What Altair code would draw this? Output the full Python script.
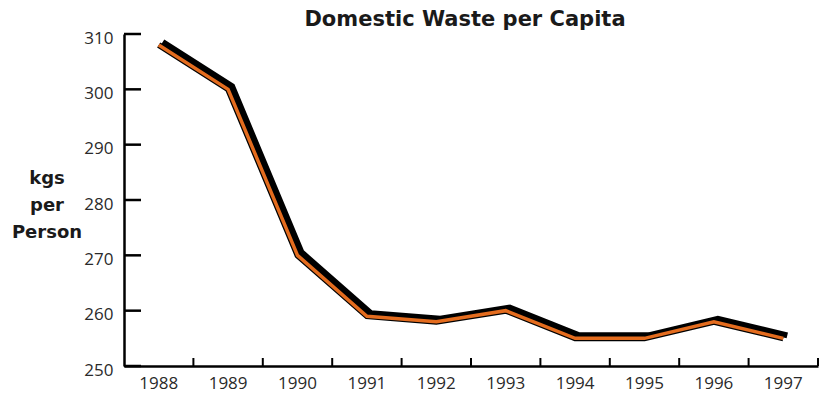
import altair as alt
import pandas as pd

years = ["1988", "1989", "1990", "1991", "1992", "1993", "1994", "1995", "1996", "1997"]
kgs_per_person = [308, 300, 270, 259, 258, 260, 255, 255, 258, 255]
y_ticks = [250, 260, 270, 280, 290, 300, 310]
title_text = "Domestic Waste per Capita"
y_caption = ["kgs", "per", "Person"]

W, H = 694, 332

df = pd.DataFrame({"year": years, "kgs": kgs_per_person})
ticks_df = pd.DataFrame({"v": y_ticks})

x_scale = alt.Scale(domain=years, paddingInner=0, paddingOuter=0)
y_scale = alt.Scale(domain=[250, 310], nice=False, zero=False)

x_enc = alt.X(
    "year:N", scale=x_scale, title=None,
    axis=alt.Axis(
        labelAngle=0, labelFontSize=17, labelColor="#2a2a2a", labelFont="Open Sans",
        labelPadding=9, ticks=False, domainColor="black", domainWidth=2.5,
    ),
)
y_enc = alt.Y(
    "kgs:Q", scale=y_scale, title=None,
    axis=alt.Axis(
        values=y_ticks, labelFontSize=17, labelColor="#2a2a2a", labelFont="Open Sans",
        labelPadding=11, labelOffset=4, ticks=False, domainColor="black",
        domainWidth=2.5, grid=False,
    ),
)

base = alt.Chart(df)

# drop shadow, dark outline and orange core of the series line
shadow = base.mark_line(color="black", strokeWidth=6, xOffset=4, yOffset=-3, strokeCap="butt").encode(x=x_enc, y=y_enc)
outline = base.mark_line(color="black", strokeWidth=6, strokeCap="butt").encode(x=x_enc, y=y_enc)
core = base.mark_line(color="#E46C1E", strokeWidth=3.5, strokeCap="butt").encode(x=x_enc, y=y_enc)

# y ticks pointing into the plot
y_tick_marks = alt.Chart(ticks_df).mark_rule(color="black", strokeWidth=2.5).encode(
    y=alt.Y("v:Q", scale=y_scale),
    x=alt.value(0),
    x2=alt.value(17),
)

# x ticks on the band boundaries, pointing up
x_tick_marks = alt.Chart(df).mark_rule(color="black", strokeWidth=2).encode(
    x=alt.X("year:N", scale=x_scale, bandPosition=1),
    y=alt.value(H - 8),
    y2=alt.value(H),
)

# y axis caption, drawn as horizontal stacked text
caption = alt.Chart(pd.DataFrame({"t": [y_caption]})).mark_text(
    font="DejaVu Sans", fontWeight="bold", fontSize=18, color="#1a1a1a",
    lineHeight=27, align="center", baseline="middle",
).encode(text="t:N", x=alt.value(-77), y=alt.value(145))

# chart heading
heading = alt.Chart(pd.DataFrame({"t": [title_text]})).mark_text(
    font="DejaVu Sans", fontWeight="bold", fontSize=21, color="#1a1a1a",
    align="center", baseline="middle",
).encode(text="t:N", x=alt.value(W / 2 - 6), y=alt.value(-14))

chart = alt.layer(shadow, outline, core, y_tick_marks, x_tick_marks, caption, heading).properties(
    width=W, height=H,
    autosize=alt.AutoSizeParams(type="none"),
    padding={"left": 124, "top": 34, "right": 1, "bottom": 32},
).configure_view(stroke=None)

chart.save("out.html", embed_options={"renderer": "svg", "actions": False})
